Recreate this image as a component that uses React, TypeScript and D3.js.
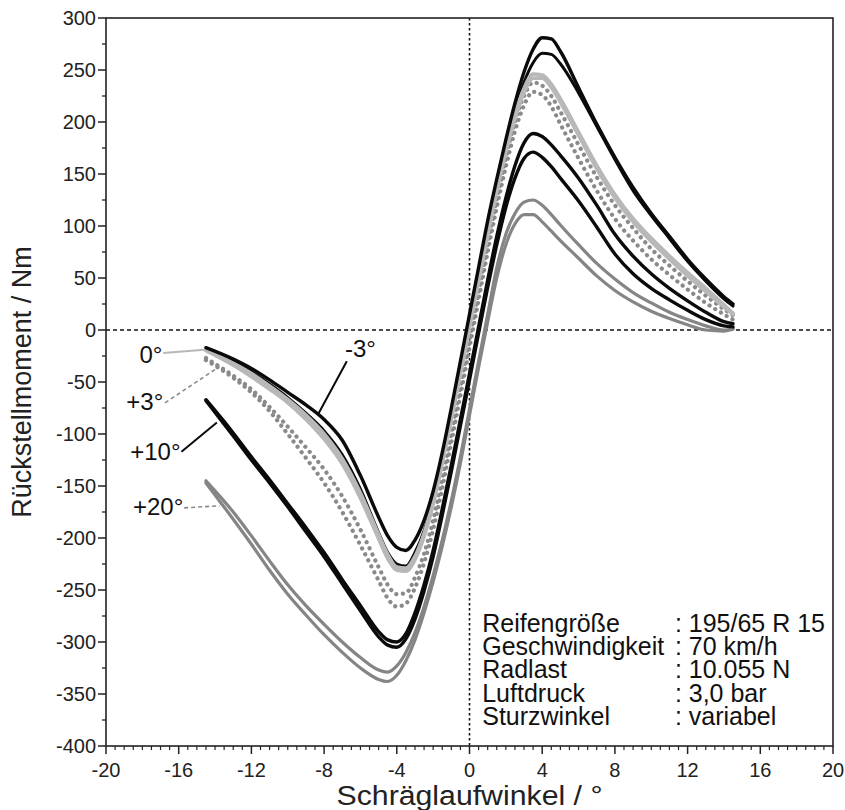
import React from "react";
import * as d3 from "d3";

// Schräglaufwinkel (deg) – shared x positions
const slipAngle = [-14.5, -13, -12, -11, -10, -9, -8, -7, -6, -5, -4.5, -4, -3.5, -3, -2.5, -2, -1.5, -1, -0.5, 0, 0.5, 1, 1.5, 2, 2.5, 3, 3.5, 4, 4.5, 5, 6, 7, 8, 9, 10, 11, 12, 13, 14, 14.5];

// Rückstellmoment (Nm) per camber angle, two runs each
const camberM3a = [-17, -28, -37, -48, -60, -72, -86, -106, -140, -180, -198, -209, -212, -202, -183, -155, -118, -75, -30, 15, 60, 105, 145, 183, 218, 248, 270, 281, 280, 268, 233, 198, 166, 137, 112, 90, 68, 49, 32, 25];
const camberM3b = [-18, -30, -40, -52, -65, -80, -97, -120, -153, -195, -214, -225, -227, -214, -193, -163, -124, -81, -36, 9, 54, 98, 139, 177, 210, 238, 257, 266, 265, 256, 228, 196, 164, 134, 110, 88, 66, 47, 30, 23];
const camber0a = [-19, -32, -42, -54, -67, -82, -100, -124, -157, -197, -216, -228, -229, -218, -196, -165, -126, -84, -40, 5, 50, 94, 136, 174, 207, 232, 246, 245, 236, 222, 190, 158, 130, 107, 88, 71, 55, 40, 24, 16];
const camber0b = [-20, -34, -45, -57, -70, -86, -105, -129, -162, -201, -220, -231, -232, -221, -199, -168, -129, -87, -43, 2, 47, 91, 133, 171, 203, 228, 242, 242, 233, 219, 187, 155, 127, 104, 85, 68, 52, 37, 22, 15];
const camberP3a = [-27, -44, -57, -74, -93, -113, -134, -160, -192, -228, -245, -254, -253, -238, -215, -183, -143, -100, -55, -10, 36, 82, 125, 165, 200, 225, 238, 235, 225, 210, 178, 147, 120, 98, 78, 62, 47, 33, 20, 14];
const camberP3b = [-29, -46, -60, -78, -100, -123, -147, -175, -207, -241, -258, -266, -263, -248, -224, -192, -152, -108, -63, -17, 29, 75, 118, 157, 191, 216, 229, 226, 215, 198, 165, 134, 107, 86, 68, 53, 39, 26, 15, 10];
const camberP10a = [-67, -99, -122, -144, -167, -190, -214, -240, -265, -290, -298, -300, -292, -272, -245, -212, -172, -130, -86, -42, 3, 48, 90, 127, 158, 180, 189, 186, 178, 168, 146, 120, 92, 71, 54, 40, 28, 17, 8, 6];
const camberP10b = [-68, -102, -125, -147, -170, -194, -218, -244, -270, -295, -303, -305, -297, -278, -251, -218, -178, -136, -92, -48, -3, 41, 82, 118, 146, 165, 171, 166, 157, 146, 124, 99, 73, 54, 40, 29, 19, 10, 4, 3];
const camberP20a = [-145, -175, -198, -222, -245, -265, -283, -300, -315, -327, -329, -323, -310, -291, -266, -236, -202, -164, -122, -76, -30, 15, 60, 92, 112, 123, 125, 120, 111, 101, 82, 64, 49, 36, 26, 17, 10, 4, 0, 1];
const camberP20b = [-147, -182, -206, -231, -254, -274, -293, -310, -325, -336, -338, -332, -318, -298, -272, -242, -208, -170, -128, -82, -36, 8, 50, 82, 102, 111, 111, 104, 95, 86, 69, 52, 38, 27, 18, 11, 5, 0, -1, 1];

const xTicks = [-20, -16, -12, -8, -4, 0, 4, 8, 12, 16, 20];
const yTicks = [300, 250, 200, 150, 100, 50, 0, -50, -100, -150, -200, -250, -300, -350, -400];

const infoLabels = ["Reifengröße", "Geschwindigkeit", "Radlast", "Luftdruck", "Sturzwinkel"];
const infoValues = [": 195/65 R 15", ": 70 km/h", ": 10.055 N", ": 3,0 bar", ": variabel"];

const W = 845, H = 810;
const left = 106, right = 833, top = 18, bottom = 746;
const FONT = "'Liberation Sans', Arial, Helvetica, sans-serif";

const BLACK = "#0a0a0a";
const LIGHT = "#b8b8b8";
const MID = "#858585";
const DOT = "#8a8a8a";

const series = [
  { id: "p20a", values: camberP20a, color: MID, width: 3.2, dash: null },
  { id: "p20b", values: camberP20b, color: MID, width: 3.2, dash: null },
  { id: "p10a", values: camberP10a, color: BLACK, width: 3.4, dash: null },
  { id: "p10b", values: camberP10b, color: BLACK, width: 3.4, dash: null },
  { id: "p3a", values: camberP3a, color: DOT, width: 4.2, dash: "0.1 6.6" },
  { id: "p3b", values: camberP3b, color: DOT, width: 4.2, dash: "0.1 6.6" },
  { id: "m3b", values: camberM3b, color: BLACK, width: 3, dash: null },
  { id: "z0a", values: camber0a, color: LIGHT, width: 4, dash: null },
  { id: "z0b", values: camber0b, color: LIGHT, width: 3.5, dash: null },
  { id: "m3a", values: camberM3a, color: BLACK, width: 3.4, dash: null },
];

export default function App() {
  const x = d3.scaleLinear().domain([-20, 20]).range([left, right]);
  const y = d3.scaleLinear().domain([-400, 300]).range([bottom, top]);
  const line = d3
    .line<number>()
    .x((_, i) => x(slipAngle[i]))
    .y((v) => y(v))
    .curve(d3.curveMonotoneX);

  const xMinor = d3.range(-20, 20.001, 0.5).filter((v) => Math.abs(v % 4) > 1e-6);
  const yMinor = d3.range(-375, 300, 50);

  const labels = [
    { text: "0°", tx: -16.9, ty: -32, anchor: "end", l: [[-16.85, -22], [-14.6, -19]], color: LIGHT, dash: null, w: 2 },
    { text: "+3°", tx: -16.85, ty: -77, anchor: "end", l: [[-16.75, -70], [-14.0, -38]], color: DOT, dash: "4 3", w: 1.6 },
    { text: "+10°", tx: -15.9, ty: -125, anchor: "end", l: [[-15.85, -117], [-13.9, -89]], color: BLACK, dash: null, w: 2 },
    { text: "+20°", tx: -15.75, ty: -178, anchor: "end", l: [[-15.7, -171], [-13.75, -169]], color: DOT, dash: "4 3", w: 1.6 },
    { text: "-3°", tx: -6.0, ty: -26, anchor: "middle", l: [[-6.75, -30], [-8.3, -80]], color: BLACK, dash: null, w: 2 },
  ];

  return (
    <svg width={W} height={H} style={{ position: "absolute", left: 0, top: 0, background: "#fff" }} fontFamily={FONT}>
      <rect x={0} y={0} width={W} height={H} fill="#fff" />
      {/* zero lines */}
      <line x1={x(-20)} x2={x(20)} y1={y(0)} y2={y(0)} stroke="#111" strokeWidth={1.6} strokeDasharray="4 3" />
      <line x1={x(0)} x2={x(0)} y1={y(300)} y2={y(-400)} stroke="#111" strokeWidth={1.6} strokeDasharray="2.5 2.5" />

      {/* curves */}
      {series.map((s) => (
        <path
          key={s.id}
          d={line(s.values) || ""}
          fill="none"
          stroke={s.color}
          strokeWidth={s.width}
          strokeDasharray={s.dash || undefined}
          strokeLinecap="round"
          strokeLinejoin="round"
        />
      ))}

      {/* curve labels */}
      {labels.map((lb) => (
        <g key={lb.text}>
          <line
            x1={x(lb.l[0][0])}
            y1={y(lb.l[0][1])}
            x2={x(lb.l[1][0])}
            y2={y(lb.l[1][1])}
            stroke={lb.color}
            strokeWidth={lb.w}
            strokeDasharray={lb.dash || undefined}
          />
          <text x={x(lb.tx)} y={y(lb.ty)} fontSize={24} textAnchor={lb.anchor} fill="#111">
            {lb.text}
          </text>
        </g>
      ))}

      {/* frame */}
      <rect x={left} y={top} width={right - left} height={bottom - top} fill="none" stroke="#222" strokeWidth={1.6} />

      {/* y axis ticks */}
      {yTicks.map((t) => (
        <g key={"y" + t}>
          <line x1={left - 8} x2={left} y1={y(t)} y2={y(t)} stroke="#222" strokeWidth={1.5} />
          <text x={left - 10} y={y(t)} dy="0.36em" fontSize={20} textAnchor="end" fill="#222">
            {t}
          </text>
        </g>
      ))}
      {yMinor.map((t) => (
        <line key={"ym" + t} x1={left - 4} x2={left} y1={y(t)} y2={y(t)} stroke="#222" strokeWidth={1.3} />
      ))}

      {/* x axis ticks */}
      {xTicks.map((t) => (
        <g key={"x" + t}>
          <line x1={x(t)} x2={x(t)} y1={bottom} y2={bottom + 8} stroke="#222" strokeWidth={1.5} />
          <text x={x(t)} y={bottom + 31} fontSize={20} textAnchor="middle" fill="#222">
            {t}
          </text>
        </g>
      ))}
      {xMinor.map((t) => (
        <line key={"xm" + t} x1={x(t)} x2={x(t)} y1={bottom} y2={bottom + 4} stroke="#222" strokeWidth={1.2} />
      ))}

      {/* axis titles */}
      <text
        x={(left + right) / 2}
        y={bottom + 59}
        fontSize={27}
        textAnchor="middle"
        fill="#222"
        textLength={266}
        lengthAdjust="spacingAndGlyphs"
      >
        Schräglaufwinkel / °
      </text>
      <text
        transform={`translate(${31},${(top + bottom) / 2}) rotate(-90)`}
        fontSize={27}
        textAnchor="middle"
        fill="#222"
      >
        Rückstellmoment / Nm
      </text>

      {/* info block */}
      {infoLabels.map((lbl, i) => (
        <g key={lbl}>
          <text x={x(0.7)} y={y(-290) + i * 23.3} fontSize={25} fill="#111">
            {lbl}
          </text>
          <text x={x(11.3)} y={y(-290) + i * 23.3} fontSize={25} fill="#111">
            {infoValues[i]}
          </text>
        </g>
      ))}
    </svg>
  );
}
